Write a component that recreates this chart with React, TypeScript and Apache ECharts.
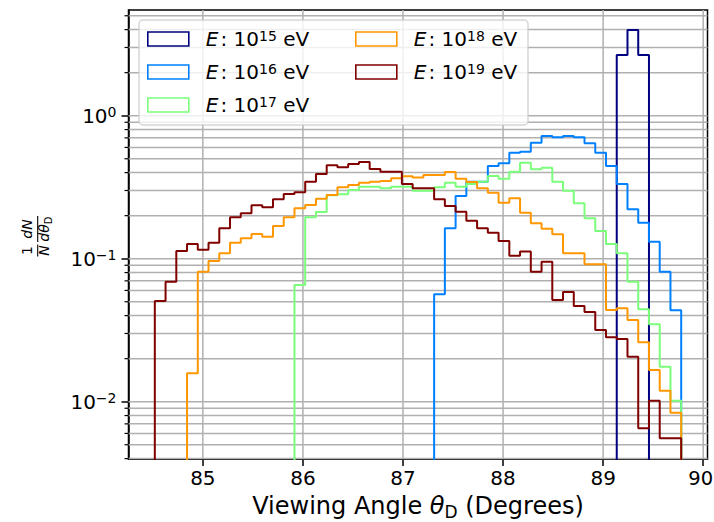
import React, { useEffect, useRef } from "react";
import * as echarts from "echarts";

// Histogram bin grid shared by all series
const binStart = 84.52;
const binWidth = 0.10735;

// Axis ranges and ticks
const xMin = 84.257;
const xMax = 90.043;
const yMin = 0.003975;
const yMax = 5.486;
const xTicks = [85, 86, 87, 88, 89, 90];
const yMajorTicks = [0.01, 0.1, 1];
const yMinorTicks = [
  0.004, 0.005, 0.006, 0.007, 0.008, 0.009,
  0.02, 0.03, 0.04, 0.05, 0.06, 0.07, 0.08, 0.09,
  0.2, 0.3, 0.4, 0.5, 0.6, 0.7, 0.8, 0.9,
  2, 3, 4, 5,
];

// Series: energy exponents, colours, first bin index and bin heights
const energies = ["15", "16", "17", "18", "19"];
const colors = ["#000080", "#0080ff", "#7bff7b", "#ff9700", "#800000"];
const firstBins = [43, 26, 13, 3, 0];

const e15 = [2.66, 3.98, 2.66];
const e16 = [
  0.0564, 0.1632, 0.2745, 0.3454, 0.3454, 0.4449, 0.4647, 0.5509, 0.5599, 0.6475,
  0.7212, 0.7063, 0.7212, 0.7063, 0.6412, 0.5509, 0.4449, 0.333, 0.2215, 0.1785,
  0.1315, 0.0811, 0.0436,
];
const e17 = [
  0.0655, 0.1948, 0.2121, 0.2776, 0.2821, 0.3022, 0.3187, 0.3187, 0.3107, 0.3187,
  0.3187, 0.2988, 0.2988, 0.3158, 0.34, 0.3187, 0.333, 0.3454, 0.3788, 0.3626,
  0.4059, 0.4692, 0.4218, 0.4328, 0.3454, 0.2988, 0.244, 0.1916, 0.1562, 0.1267,
  0.1091, 0.0691, 0.0443, 0.0348, 0.01757, 0.01017,
];
const e18 = [
  0.0158, 0.0811, 0.0964, 0.1091, 0.1294, 0.1389, 0.1488, 0.1425, 0.1694, 0.1948,
  0.2252, 0.2374, 0.2627, 0.2789, 0.3158, 0.3277, 0.34, 0.3454, 0.3494, 0.3649,
  0.3769, 0.3697, 0.3849, 0.3849, 0.404, 0.3626, 0.3439, 0.3107, 0.2893, 0.2463,
  0.2645, 0.2097, 0.1769, 0.1621, 0.1481, 0.1091, 0.1091, 0.0914, 0.0914, 0.0438,
  0.045, 0.0373, 0.026, 0.01666, 0.01194, 0.00838,
];
const e19 = [
  0.0506, 0.0691, 0.1132, 0.1267, 0.1156, 0.1294, 0.1632, 0.1948, 0.2077, 0.2362,
  0.2288, 0.2602, 0.2834, 0.2912, 0.3454, 0.3913, 0.4498, 0.4356, 0.4595, 0.4746,
  0.4239, 0.4059, 0.4059, 0.333, 0.3107, 0.3107, 0.2602, 0.2335, 0.2131, 0.1844,
  0.1632, 0.152, 0.133, 0.105, 0.1123, 0.0811, 0.0953, 0.0514, 0.0585, 0.0467,
  0.0424, 0.0317, 0.0282, 0.0274, 0.0206, 0.00652, 0.01017, 0.00555, 0.00555,
];
const heights = [e15, e16, e17, e18, e19];

const FONT = "DejaVu Sans";
const FLOOR = 1e-4;
const GRID_COLOR = "#b0b0b0";

function stepPoints(first: number, hs: number[]) {
  const edge = (i: number) => binStart + i * binWidth;
  const pts: number[][] = [[edge(first), FLOOR]];
  hs.forEach((h, k) => {
    pts.push([edge(first + k), h]);
    pts.push([edge(first + k + 1), h]);
  });
  pts.push([edge(first + hs.length), FLOOR]);
  return pts;
}

function supExp(v: number) {
  const e = Math.round(Math.log10(v));
  return e < 0 ? "\u2212" + -e : String(e);
}

const legendRich = {
  it: { fontFamily: FONT, fontSize: 20, fontStyle: "italic", lineHeight: 20, color: "#000", padding: [0, 2, 0, 12] },
  n: { fontFamily: FONT, fontSize: 20, lineHeight: 20, color: "#000" },
  sup: { fontFamily: FONT, fontSize: 14, lineHeight: 9, verticalAlign: "top", color: "#000" },
};

function legendItem(idx: number) {
  return {
    name: energies[idx],
    icon: "rect",
    itemStyle: { color: "rgba(0,0,0,0)", borderColor: colors[idx], borderWidth: 1.6 },
  };
}

function makeLegend(left: number, idxs: number[]) {
  return {
    left,
    top: 29,
    orient: "vertical",
    padding: 0,
    itemWidth: 41,
    itemHeight: 14,
    itemGap: 13,
    selectedMode: false,
    data: idxs.map(legendItem),
    formatter: (name: string) => `{it|E}{n|: 10}{sup|${name}}{n| eV}`,
    textStyle: { fontFamily: FONT, fontSize: 20, color: "#000", rich: legendRich },
  };
}

function buildOption() {
  const histSeries = energies.map((e, idx) => ({
    name: e,
    type: "line",
    data: stepPoints(firstBins[idx], heights[idx]),
    showSymbol: false,
    symbol: "none",
    silent: true,
    z: 2 + idx,
    clip: true,
    color: colors[idx],
    lineStyle: { color: colors[idx], width: 2 },
    itemStyle: { color: colors[idx] },
  }));

  const hGrid = {
    type: "custom",
    coordinateSystem: "cartesian2d",
    silent: true,
    z: 1,
    data: [...yMajorTicks, ...yMinorTicks].map((v) => [xMin, v]),
    renderItem: (params: any, api: any) => {
      const p = api.coord([api.value(0), api.value(1)]);
      const cs = params.coordSys;
      return {
        type: "line",
        shape: { x1: cs.x, y1: p[1], x2: cs.x + cs.width, y2: p[1] },
        style: { stroke: GRID_COLOR, lineWidth: 1.5 },
      };
    },
  };

  const vGrid = {
    type: "custom",
    coordinateSystem: "cartesian2d",
    silent: true,
    z: 1,
    data: xTicks.map((v) => [v, yMin]),
    renderItem: (params: any, api: any) => {
      const p = api.coord([api.value(0), api.value(1)]);
      const cs = params.coordSys;
      return {
        type: "line",
        shape: { x1: p[0], y1: cs.y, x2: p[0], y2: cs.y + cs.height },
        style: { stroke: GRID_COLOR, lineWidth: 1.5 },
      };
    },
  };

  const minorTicks = {
    type: "custom",
    coordinateSystem: "cartesian2d",
    silent: true,
    z: 5,
    clip: false,
    data: yMinorTicks.map((v) => [xMin, v]),
    renderItem: (params: any, api: any) => {
      const p = api.coord([api.value(0), api.value(1)]);
      const cs = params.coordSys;
      return {
        type: "line",
        shape: { x1: cs.x - 4, y1: p[1], x2: cs.x, y2: p[1] },
        style: { stroke: "#000", lineWidth: 1.2 },
      };
    },
  };

  const fracText = (text: string, x: number, y: number, italic: boolean, size = 14) => ({
    type: "text",
    x,
    y,
    style: {
      text,
      fontFamily: FONT,
      fontSize: size,
      fontStyle: italic ? "italic" : "normal",
      fill: "#000",
      align: "center",
      verticalAlign: "middle",
    },
  });

  const lastTick = xTicks[xTicks.length - 1];

  return {
    animation: false,
    backgroundColor: "#fff",
    grid: {
      left: 128.5,
      top: 10,
      width: 579,
      height: 449,
      show: true,
      borderColor: "#000",
      borderWidth: 1.5,
      backgroundColor: "rgba(0,0,0,0)",
      containLabel: false,
      outerBoundsMode: "none",
    },
    legend: [makeLegend(147, [0, 1, 2]), makeLegend(355, [3, 4])],
    xAxis: {
      type: "value",
      min: xMin,
      max: xMax,
      axisLine: { show: true, lineStyle: { color: "#000", width: 1.5 } },
      axisTick: { show: true, length: 7, lineStyle: { color: "#000", width: 1.5 }, customValues: xTicks },
      axisLabel: {
        customValues: xTicks,
        fontFamily: FONT,
        fontSize: 20,
        color: "#000",
        margin: 9,
        formatter: (v: number) => (v === lastTick ? `{e|${v}}` : String(v)),
        rich: {
          e: { fontFamily: FONT, fontSize: 19.5, color: "#000", width: 20, align: "right" },
        },
      },
      splitLine: { show: false },
      name: "{n|Viewing Angle }{i|\u03b8}{sub|D}{n| (Degrees)}",
      nameLocation: "middle",
      nameGap: 33,
      nameTextStyle: {
        fontFamily: FONT,
        fontSize: 24,
        color: "#000",
        rich: {
          n: { fontFamily: FONT, fontSize: 24, lineHeight: 28, color: "#000" },
          i: { fontFamily: FONT, fontSize: 24, fontStyle: "italic", lineHeight: 28, color: "#000" },
          sub: { fontFamily: FONT, fontSize: 17, lineHeight: 10, verticalAlign: "bottom", color: "#000" },
        },
      },
    },
    yAxis: {
      type: "log",
      logBase: 10,
      min: yMin,
      max: yMax,
      axisLine: { show: true, lineStyle: { color: "#000", width: 1.5 } },
      axisTick: { show: true, length: 7, lineStyle: { color: "#000", width: 1.5 }, customValues: yMajorTicks },
      axisLabel: {
        customValues: yMajorTicks,
        margin: 12,
        formatter: (v: number) => `{b|10}{s|${supExp(v)}}`,
        rich: {
          b: { fontFamily: FONT, fontSize: 20, lineHeight: 22, color: "#000" },
          s: { fontFamily: FONT, fontSize: 14, lineHeight: 10, verticalAlign: "top", color: "#000" },
        },
      },
      splitLine: { show: false },
      minorTick: { show: false },
    },
    graphic: [
      {
        type: "rect",
        z: 3,
        silent: true,
        shape: { x: 139, y: 20, width: 389, height: 105, r: 4 },
        style: { fill: "rgba(255,255,255,0.8)", stroke: "rgba(204,204,204,0.8)", lineWidth: 1.5 },
      },
      {
        type: "group",
        x: 37.7,
        y: 237,
        rotation: Math.PI / 2,
        silent: true,
        children: [
          fracText("1", -13.5, -11, false),
          fracText("N", -13.5, 6, true),
          { type: "line", shape: { x1: -19.5, y1: 0, x2: -7.5, y2: 0 }, style: { stroke: "#000", lineWidth: 1.1 } },
          fracText("dN", 8, -11, true),
          { type: "line", shape: { x1: -5, y1: 0, x2: 21, y2: 0 }, style: { stroke: "#000", lineWidth: 1.1 } },
          fracText("d\u03b8", 4, 6, true),
          fracText("D", 16.5, 10.5, false, 10),
        ],
      },
    ],
    series: [hGrid, vGrid, minorTicks, ...histSeries],
  };
}

export default function App() {
  const ref = useRef<HTMLDivElement>(null);
  useEffect(() => {
    if (!ref.current) return;
    const chart = echarts.init(ref.current, null, { renderer: "svg" });
    chart.setOption(buildOption() as any);
    return () => chart.dispose();
  }, []);
  return (
    <div
      ref={ref}
      style={{ position: "absolute", left: 0, top: 0, width: 714, height: 522, background: "#fff" }}
    />
  );
}
